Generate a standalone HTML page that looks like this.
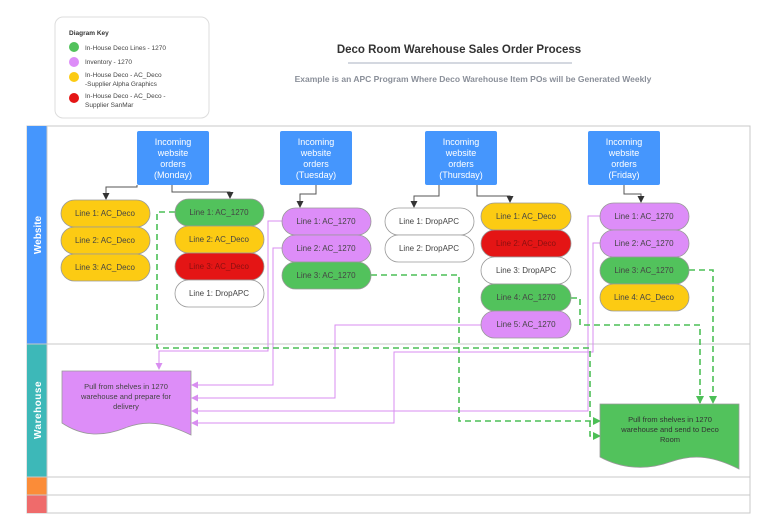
<!DOCTYPE html>
<html><head><meta charset="utf-8"><style>
body{margin:0;background:#fff}
svg text{font-family:"Liberation Sans",sans-serif}
</style></head><body>
<svg width="771" height="526" viewBox="0 0 771 526" xmlns="http://www.w3.org/2000/svg">
<defs>
<marker id="ag" markerWidth="8" markerHeight="8" refX="7" refY="4" orient="auto" markerUnits="userSpaceOnUse"><path d="M0,0 L8,4 L0,8z" fill="#4cbf56"/></marker>
<marker id="ap" markerWidth="7" markerHeight="7" refX="6" refY="3.5" orient="auto" markerUnits="userSpaceOnUse"><path d="M0,0 L7,3.5 L0,7z" fill="#d88ef0"/></marker>
<marker id="ak" markerWidth="7" markerHeight="7" refX="6" refY="3.5" orient="auto" markerUnits="userSpaceOnUse"><path d="M0,0 L7,3.5 L0,7z" fill="#333"/></marker>
</defs>
<!-- legend -->
<rect x="55" y="17" width="154" height="101" rx="8" fill="#fff" stroke="#ddd"/>
<text x="69" y="35" font-size="6.5" font-weight="bold" fill="#333">Diagram Key</text>
<circle cx="74" cy="47" r="5" fill="#52c25c"/><text x="85" y="50" font-size="6.5" fill="#444">In-House Deco Lines - 1270</text>
<circle cx="74" cy="62" r="5" fill="#dd8df8"/><text x="85" y="64" font-size="6.5" fill="#444">Inventory - 1270</text>
<circle cx="74" cy="77" r="5" fill="#fccb13"/><text x="85" y="77" font-size="6.5" fill="#444">In-House Deco - AC_Deco</text><text x="85" y="86" font-size="6.5" fill="#444">-Supplier Alpha Graphics</text>
<circle cx="74" cy="98" r="5" fill="#e41515"/><text x="85" y="98" font-size="6.5" fill="#444">In-House Deco - AC_Deco -</text><text x="85" y="107" font-size="6.5" fill="#444">Supplier SanMar</text>
<!-- title -->
<text x="459" y="53" font-size="11.5" font-weight="bold" fill="#333" text-anchor="middle">Deco Room Warehouse Sales Order Process</text>
<line x1="348" y1="63" x2="572" y2="63" stroke="#a9b0c0"/>
<text x="473" y="82" font-size="8.5" font-weight="bold" fill="#8a8f99" text-anchor="middle">Example is an APC Program Where Deco Warehouse Item POs will be Generated Weekly</text>
<!-- pool -->
<rect x="27" y="126" width="723" height="387" fill="#fff" stroke="#c8c8c8"/>
<rect x="27" y="126" width="20" height="218" fill="#4596fd"/>
<rect x="27" y="344" width="20" height="133" fill="#3db8b8"/>
<rect x="27" y="477" width="20" height="18" fill="#fb8c38"/>
<rect x="27" y="495" width="20" height="18" fill="#ef6b6b"/>
<line x1="27" y1="344" x2="750" y2="344" stroke="#c8c8c8"/>
<line x1="27" y1="477" x2="750" y2="477" stroke="#c8c8c8"/>
<line x1="27" y1="495" x2="750" y2="495" stroke="#c8c8c8"/>
<line x1="47" y1="126" x2="47" y2="513" stroke="#c8c8c8"/>
<text transform="translate(41,235) rotate(-90)" font-size="10" font-weight="bold" fill="#fff" text-anchor="middle">Website</text>
<text transform="translate(41,410) rotate(-90)" font-size="10" font-weight="bold" fill="#fff" text-anchor="middle" letter-spacing="0.5">Warehouse</text>
<!-- blue boxes -->
<g font-size="9" fill="#fff" text-anchor="middle">
<rect x="137" y="131" width="72" height="54" rx="2" fill="#4596fd"/>
<text x="173" y="145">Incoming</text><text x="173" y="156">website</text><text x="173" y="167">orders</text><text x="173" y="178">(Monday)</text>
<rect x="280" y="131" width="72" height="54" rx="2" fill="#4596fd"/>
<text x="316" y="145">Incoming</text><text x="316" y="156">website</text><text x="316" y="167">orders</text><text x="316" y="178">(Tuesday)</text>
<rect x="425" y="131" width="72" height="54" rx="2" fill="#4596fd"/>
<text x="461" y="145">Incoming</text><text x="461" y="156">website</text><text x="461" y="167">orders</text><text x="461" y="178">(Thursday)</text>
<rect x="588" y="131" width="72" height="54" rx="2" fill="#4596fd"/>
<text x="624" y="145">Incoming</text><text x="624" y="156">website</text><text x="624" y="167">orders</text><text x="624" y="178">(Friday)</text>
</g>
<!-- black connectors -->
<g fill="none" stroke="#555" stroke-width="1">
<path d="M137,185 L137,187 L106,187 L106,199" marker-end="url(#ak)"/>
<path d="M172,185 L172,192 L230,192 L230,198" marker-end="url(#ak)"/>
<path d="M316,185 L316,194 L300,194 L300,207" marker-end="url(#ak)"/>
<path d="M439,185 L439,196 L414,196 L414,207" marker-end="url(#ak)"/>
<path d="M477,185 L477,196 L510,196 L510,202" marker-end="url(#ak)"/>
<path d="M624,185 L624,194 L641,194 L641,202" marker-end="url(#ak)"/>
</g>
<!-- connectors purple -->
<g fill="none" stroke="#d88ef0" stroke-width="1">
<path d="M282,221 L268,221 L268,351 L159,351 L159,369" marker-end="url(#ap)"/>
<path d="M282,248 L273,248 L273,385 L192,385" marker-end="url(#ap)"/>
<path d="M481,325 L335,325 L335,398 L192,398" marker-end="url(#ap)"/>
<path d="M600,216 L588,216 L588,411 L192,411" marker-end="url(#ap)"/>
<path d="M600,243 L593,243 L593,352 L394,352 L394,423 L192,423" marker-end="url(#ap)"/>
</g>
<!-- connectors green dashed -->
<g fill="none" stroke="#4cbf56" stroke-width="1.6" stroke-dasharray="6,4">
<path d="M175,212 L157,212 L157,348 L590,348 L590,436 L600,436" marker-end="url(#ag)"/>
<path d="M371,275 L459,275 L459,421 L600,421" marker-end="url(#ag)"/>
<path d="M571,298 L580,298 L580,325 L700,325 L700,403" marker-end="url(#ag)"/>
<path d="M689,270 L713,270 L713,403" marker-end="url(#ag)"/>
</g>
<!-- pills -->
<g font-size="8" text-anchor="middle" stroke="#999" stroke-width="0.8">
<rect x="61" y="200" width="89" height="27" rx="13.5" fill="#fccb13"/>
<rect x="61" y="227" width="89" height="27" rx="13.5" fill="#fccb13"/>
<rect x="61" y="254" width="89" height="27" rx="13.5" fill="#fccb13"/>
<rect x="175" y="199" width="89" height="27" rx="13.5" fill="#52c25c"/>
<rect x="175" y="226" width="89" height="27" rx="13.5" fill="#fccb13"/>
<rect x="175" y="253" width="89" height="27" rx="13.5" fill="#e41515"/>
<rect x="175" y="280" width="89" height="27" rx="13.5" fill="#fff"/>
<rect x="282" y="208" width="89" height="27" rx="13.5" fill="#dd8df8"/>
<rect x="282" y="235" width="89" height="27" rx="13.5" fill="#dd8df8"/>
<rect x="282" y="262" width="89" height="27" rx="13.5" fill="#52c25c"/>
<rect x="385" y="208" width="89" height="27" rx="13.5" fill="#fff"/>
<rect x="385" y="235" width="89" height="27" rx="13.5" fill="#fff"/>
<rect x="481" y="203" width="90" height="27" rx="13.5" fill="#fccb13"/>
<rect x="481" y="230" width="90" height="27" rx="13.5" fill="#e41515"/>
<rect x="481" y="257" width="90" height="27" rx="13.5" fill="#fff"/>
<rect x="481" y="284" width="90" height="27" rx="13.5" fill="#52c25c"/>
<rect x="481" y="311" width="90" height="27" rx="13.5" fill="#dd8df8"/>
<rect x="600" y="203" width="89" height="27" rx="13.5" fill="#dd8df8"/>
<rect x="600" y="230" width="89" height="27" rx="13.5" fill="#dd8df8"/>
<rect x="600" y="257" width="89" height="27" rx="13.5" fill="#52c25c"/>
<rect x="600" y="284" width="89" height="27" rx="13.5" fill="#fccb13"/>
</g>
<g font-size="8" text-anchor="middle" fill="#444">
<text x="105" y="216">Line 1: AC_Deco</text>
<text x="105" y="243">Line 2: AC_Deco</text>
<text x="105" y="270">Line 3: AC_Deco</text>
<text x="219" y="215">Line 1: AC_1270</text>
<text x="219" y="242">Line 2: AC_Deco</text>
<text x="219" y="269" fill="#8a1010">Line 3: AC_Deco</text>
<text x="219" y="296">Line 1: DropAPC</text>
<text x="326" y="224">Line 1: AC_1270</text>
<text x="326" y="251">Line 2: AC_1270</text>
<text x="326" y="278">Line 3: AC_1270</text>
<text x="429" y="224">Line 1: DropAPC</text>
<text x="429" y="251">Line 2: DropAPC</text>
<text x="526" y="219">Line 1: AC_Deco</text>
<text x="526" y="246" fill="#8a1010">Line 2: AC_Deco</text>
<text x="526" y="273">Line 3: DropAPC</text>
<text x="526" y="300">Line 4: AC_1270</text>
<text x="526" y="327">Line 5: AC_1270</text>
<text x="644" y="219">Line 1: AC_1270</text>
<text x="644" y="246">Line 2: AC_1270</text>
<text x="644" y="273">Line 3: AC_1270</text>
<text x="644" y="300">Line 4: AC_Deco</text>
</g>
<!-- documents -->
<path d="M62,371 L191,371 L191,435 C170,425 150,418 125,428 C100,438 80,435 62,423 Z" fill="#dd8df8" stroke="#999" stroke-width="0.8"/>
<g font-size="7.5" fill="#444" text-anchor="middle"><text x="126" y="389">Pull from shelves in 1270</text><text x="126" y="399">warehouse and prepare for</text><text x="126" y="409">delivery</text></g>
<path d="M600,404 L739,404 L739,469 C715,457 695,453 670,462 C645,471 620,468 600,457 Z" fill="#52c25c" stroke="#999" stroke-width="0.8"/>
<g font-size="7.5" fill="#333" text-anchor="middle"><text x="670" y="422">Pull from shelves in 1270</text><text x="670" y="432">warehouse and send to Deco</text><text x="670" y="442">Room</text></g>
</svg>
</body></html>
